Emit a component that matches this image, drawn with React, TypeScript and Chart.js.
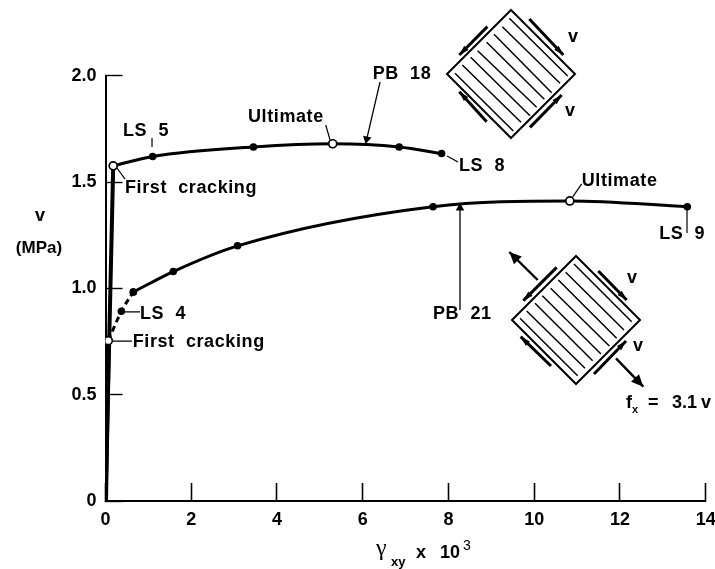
import React, { useEffect, useRef } from "react";
import { Chart, registerables } from "chart.js";

Chart.register(...registerables);

// strain (x 10^3) and shear stress (MPa)
const pb18ElasticX = [0, 0.18];
const pb18ElasticY = [0, 1.576];
const pb18X = [0.18, 1.1, 3.45, 5.3, 6.85, 7.84];
const pb18Y = [1.576, 1.62, 1.665, 1.68, 1.665, 1.634];
const pb18Open = [true, false, false, true, false, false];

const pb21ElasticX = [0, 0.065];
const pb21ElasticY = [0, 0.754];
const pb21DashedX = [0.065, 0.37, 0.65];
const pb21DashedY = [0.754, 0.892, 0.983];
const pb21DashedOpen = [true, false, false];
const pb21X = [0.65, 1.58, 3.08, 7.64, 10.83, 13.57];
const pb21Y = [0.983, 1.079, 1.2, 1.384, 1.411, 1.384];
const pb21Open = [false, false, false, false, true, false];

const xTicks = [0, 2, 4, 6, 8, 10, 12, 14];
const yTicks = [0, 0.5, 1, 1.5, 2];

const leaders = [
  [[1.085, 1.707], [1.085, 1.665]],
  [[5.137, 1.768], [5.237, 1.698]],
  [[0.268, 1.566], [0.455, 1.514]],
  [[7.966, 1.622], [8.223, 1.594]],
  [[0.455, 0.889], [0.805, 0.889]],
  [[0.175, 0.752], [0.618, 0.752]],
  [[10.898, 1.43], [11.108, 1.491]],
  [[13.564, 1.368], [13.564, 1.26]],
];
const arrowPB18 = [[6.403, 1.97], [6.093, 1.702]];
const arrowPB21 = [[8.269, 0.898], [8.269, 1.378]];

const notes: [string, number, number][] = [
  ["LS  5", 0.408, 1.716],
  ["Ultimate", 3.324, 1.782],
  ["PB  18", 6.233, 1.984],
  ["First  cracking", 0.455, 1.448],
  ["LS  8", 8.246, 1.552],
  ["LS  4", 0.805, 0.856],
  ["First  cracking", 0.634, 0.724],
  ["Ultimate", 11.108, 1.481],
  ["LS  9", 12.915, 1.232],
  ["PB  21", 7.639, 0.856],
];

type Seg = [number, number, number, number];
const hatch1: Seg[] = [[238,55,413,228],[217,80,390,250],[192,103,365,278],[170,127,343,298],[143,152,320,322],[122,172,300,347],[97,195,273,367],[75,220,250,393]];
const shear1: Seg[] = [[298,57,400,165],[172,80,88,165],[170,365,88,275],[300,382,395,285]];
const hatch2: Seg[] = [[252,12,425,185],[227,37,402,210],[205,60,380,235],[182,85,358,258],[157,107,333,282],[135,130,308,302],[110,153,285,325],[90,175,263,347]];
const shear2: Seg[] = [[325,33,410,120],[200,22,100,122],[183,318,92,230],[312,342,408,243]];
const pull2: Seg[] = [[143,60,58,-24],[378,295,460,380]];

const toPts = (xs: number[], ys: number[]) => xs.map((x, i) => ({ x, y: ys[i] }));
const BOLD = '"Liberation Sans", Arial, sans-serif';

function head(ctx: CanvasRenderingContext2D, s: Seg, ox: number, oy: number, len: number, wid: number) {
  const x1 = ox + s[0] / 3, y1 = oy + s[1] / 3, x2 = ox + s[2] / 3, y2 = oy + s[3] / 3;
  ctx.beginPath();
  ctx.moveTo(x1, y1);
  ctx.lineTo(x2, y2);
  ctx.stroke();
  const a = Math.atan2(y2 - y1, x2 - x1);
  ctx.beginPath();
  ctx.moveTo(x2, y2);
  ctx.lineTo(x2 - len * Math.cos(a) + wid * Math.sin(a), y2 - len * Math.sin(a) - wid * Math.cos(a));
  ctx.lineTo(x2 - len * Math.cos(a) - wid * Math.sin(a), y2 - len * Math.sin(a) + wid * Math.cos(a));
  ctx.closePath();
  ctx.fill();
}

function diamond(ctx: CanvasRenderingContext2D, cx: number, cy: number, r: number, hatch: Seg[], shear: Seg[], ox: number, oy: number) {
  ctx.lineWidth = 2;
  ctx.beginPath();
  ctx.moveTo(cx, cy - r);
  ctx.lineTo(cx + r, cy);
  ctx.lineTo(cx, cy + r);
  ctx.lineTo(cx - r, cy);
  ctx.closePath();
  ctx.stroke();
  ctx.lineWidth = 1.5;
  hatch.forEach((s) => {
    ctx.beginPath();
    ctx.moveTo(ox + s[0] / 3, oy + s[1] / 3);
    ctx.lineTo(ox + s[2] / 3, oy + s[3] / 3);
    ctx.stroke();
  });
  ctx.lineWidth = 3;
  shear.forEach((s) => head(ctx, s, ox, oy, 10, 3));
}

const overlay = {
  id: "overlay",
  afterDatasetsDraw(chart: any) {
    const { ctx, scales } = chart;
    ctx.save();
    ctx.fillStyle = "#000";
    ctx.strokeStyle = "#000";
    ctx.textBaseline = "alphabetic";
    ctx.letterSpacing = "0.6px";
    ctx.font = `bold 18px ${BOLD}`;
    notes.forEach(([t, x, y]) => {
      ctx.fillText(t, scales.x.getPixelForValue(x), scales.y.getPixelForValue(y));
    });
    ctx.letterSpacing = "0px";
    // shear panel sketches
    diamond(ctx, 511, 74, 64, hatch1, shear1, 430, 0);
    diamond(ctx, 576, 320, 64, hatch2, shear2, 490, 260);
    ctx.lineWidth = 2.4;
    pull2.forEach((s) => head(ctx, s, 490, 260, 12, 5.5));
    ctx.font = `bold 18px ${BOLD}`;
    ctx.fillText("v", 568, 42);
    ctx.fillText("v", 565, 116);
    ctx.fillText("v", 627, 283);
    ctx.fillText("v", 633, 351);
    ctx.fillText("f", 626, 408);
    ctx.font = `bold 11px ${BOLD}`;
    ctx.fillText("x", 632, 413);
    ctx.font = `bold 18px ${BOLD}`;
    ctx.fillText("=", 648, 408);
    ctx.fillText("3.1", 672, 408);
    ctx.fillText("v", 701, 408);
    // y-axis title
    ctx.textAlign = "center";
    ctx.fillText("v", 40, 221);
    ctx.font = `bold 17px ${BOLD}`;
    ctx.fillText("(MPa)", 39, 253);
    // x-axis title
    ctx.textAlign = "left";
    ctx.font = `24px "Liberation Serif", serif`;
    ctx.fillText("γ", 376, 555);
    ctx.font = `bold 13px ${BOLD}`;
    ctx.fillText("xy", 391, 566);
    ctx.font = `bold 18px ${BOLD}`;
    ctx.fillText("x", 416, 558);
    ctx.fillText("10", 440, 558);
    ctx.font = `14px ${BOLD}`;
    ctx.fillText("3", 463, 550);
    ctx.restore();
  },
};

const axisBase = {
  type: "linear",
  border: { display: true, color: "#000", width: 2 },
};

export default function App() {
  const ref = useRef<HTMLCanvasElement>(null);
  useEffect(() => {
    const line = { borderColor: "#000", showLine: true, pointRadius: 0, fill: false };
    const marker = (open: boolean[]) => ({
      pointRadius: open.map((o) => (o ? 4 : 3.8)),
      pointBackgroundColor: open.map((o) => (o ? "#fff" : "#000")),
      pointBorderColor: "#000",
      pointBorderWidth: open.map((o) => (o ? 1.7 : 0)),
    });
    // the first dataset is painted last, so the open markers stay on top
    const datasets: any[] = [
      { ...line, label: "PB 18", data: toPts(pb18X, pb18Y), borderWidth: 3, cubicInterpolationMode: "monotone", ...marker(pb18Open) },
      { ...line, label: "PB 21 first stage", data: toPts(pb21DashedX, pb21DashedY), borderWidth: 3, borderDash: [6, 4], cubicInterpolationMode: "monotone", ...marker(pb21DashedOpen) },
      { ...line, label: "PB 21", data: toPts(pb21X, pb21Y), borderWidth: 3, cubicInterpolationMode: "monotone", ...marker(pb21Open) },
      { ...line, label: "PB 18 elastic", data: toPts(pb18ElasticX, pb18ElasticY), borderWidth: 4 },
      { ...line, label: "PB 21 elastic", data: toPts(pb21ElasticX, pb21ElasticY), borderWidth: 5 },
      { ...line, label: "PB 18 arrow", data: arrowPB18.map(([x, y]) => ({ x, y })), borderWidth: 1.3, pointStyle: "triangle", pointRadius: [0, 5], pointRotation: 193, pointBackgroundColor: "#000", pointBorderWidth: 0 },
      { ...line, label: "PB 21 arrow", data: arrowPB21.map(([x, y]) => ({ x, y })), borderWidth: 1.3, pointStyle: "triangle", pointRadius: [0, 5], pointRotation: 0, pointBackgroundColor: "#000", pointBorderWidth: 0 },
      ...leaders.map((l) => ({ ...line, label: "leader", data: l.map(([x, y]) => ({ x, y })), borderWidth: 1.2 })),
    ];
    const tickFont = { family: BOLD, size: 18, weight: "bold" as const };
    const chart = new Chart(ref.current!, {
      type: "scatter",
      data: { datasets },
      plugins: [overlay],
      options: {
        animation: false,
        responsive: false,
        layout: { padding: { top: 75.7, right: 9.3, left: 0, bottom: 0 } },
        plugins: { legend: { display: false }, tooltip: { enabled: false } },
        scales: {
          x: {
            ...axisBase,
            min: 0,
            max: 14,
            afterBuildTicks: (s: any) => { s.ticks = xTicks.map((value) => ({ value })); },
            afterFit: (s: any) => { s.height = 68; s.paddingLeft = 0; s.paddingRight = 0; },
            grid: { drawOnChartArea: false, drawTicks: true, tickLength: -18, tickWidth: 1.6, tickColor: "#000" },
            ticks: { color: "#000", font: tickFont, padding: 26, maxRotation: 0, autoSkip: false, callback: (v: any) => String(v) },
          },
          y: {
            ...axisBase,
            min: 0,
            max: 2,
            afterBuildTicks: (s: any) => { s.ticks = yTicks.map((value) => ({ value })); },
            afterFit: (s: any) => { s.width = 105.5; s.paddingTop = 0; s.paddingBottom = 0; },
            grid: { drawOnChartArea: false, drawTicks: true, tickLength: -17, tickWidth: 1.4, tickColor: "#000" },
            ticks: { color: "#000", font: tickFont, padding: 26, autoSkip: false, callback: (v: any) => (v === 0 ? "0" : Number(v).toFixed(1)) },
          },
        },
      } as any,
    });
    return () => chart.destroy();
  }, []);
  return (
    <div style={{ position: "absolute", left: 0, top: 0, width: 715, height: 569, background: "#fff" }}>
      <canvas ref={ref} width={715} height={569} style={{ display: "block" }} />
    </div>
  );
}
